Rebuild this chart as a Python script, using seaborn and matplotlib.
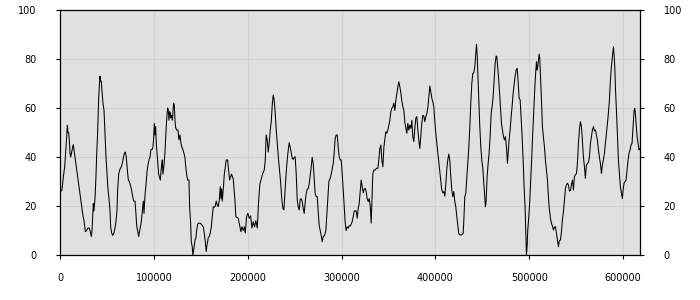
import numpy as np
import pandas as pd
import matplotlib
matplotlib.use("Agg")
import matplotlib.pyplot as plt
import seaborn as sns

# positions in thousands and values
pos_k = [
    0.7, 2.1, 3.6, 5.0, 6.0, 7.1, 7.8, 8.5, 9.2, 9.9, 10.7, 11.4, 12.4, 13.5, 14.2, 14.9,
    16.0, 17.0, 18.5, 19.9, 21.3, 22.7, 24.1, 25.6, 27.0, 28.4, 29.8, 31.2, 32.3, 33.4,
    34.1, 34.8, 35.5, 36.2, 37.3, 38.3, 39.1, 40.1, 41.2, 41.9, 42.6, 43.3, 44.0, 44.7,
    45.8, 46.9, 47.9, 49.0, 50.1, 51.1, 52.2, 53.3, 54.0, 55.0, 56.1, 57.5, 58.6, 59.6,
    60.7, 61.4, 62.5, 63.9, 65.3, 66.4, 67.5, 68.5, 69.6, 70.6, 71.7, 72.8, 73.8, 74.9,
    76.3, 77.4, 78.5, 79.9, 80.9, 81.7, 82.7, 83.8, 84.5, 85.6, 86.6, 87.7, 88.8, 89.5,
    90.5, 91.6, 92.7, 93.7, 94.8, 95.9, 96.9, 98.0, 99.0, 99.8, 100.5, 101.2, 101.9,
    102.6, 103.3, 104.0, 105.1, 105.8, 106.9, 107.6, 108.3, 109.0, 109.7, 110.8, 111.8,
    112.5, 113.2, 114.0, 114.7, 115.4, 116.1, 116.8, 117.5, 118.2, 118.9, 119.6, 120.3,
    121.1, 121.8, 122.5, 123.2, 124.3, 125.7, 126.7, 127.8, 128.9, 129.9, 131.0, 132.1,
    133.1, 133.8, 134.9, 136.0, 137.4, 138.1, 139.2, 139.9, 140.9, 141.6, 142.7, 143.8,
    144.8, 145.6, 146.6, 147.7, 149.1, 150.5, 151.6, 152.7, 153.7, 154.8, 155.8, 156.6,
    157.3, 158.0, 159.0, 160.1, 161.2, 162.2, 163.3, 164.4, 165.4, 166.5, 167.6, 168.6,
    169.7, 170.8, 171.5, 172.2, 172.9, 173.9, 175.0, 176.1, 177.1, 178.6, 179.6, 180.7,
    182.8, 184.6, 186.4, 187.4, 189.9, 191.7, 192.8, 193.8, 195.2, 196.3, 197.4, 198.8,
    200.2, 201.6, 203.1, 204.5, 205.9, 207.3, 208.7, 210.2, 211.6, 213.0, 214.4, 215.8,
    217.6, 218.7, 219.7, 220.8, 221.9, 222.9, 224.0, 225.1, 226.1, 227.2, 228.3, 229.3,
    230.4, 231.5, 232.9, 234.3, 235.4, 236.4, 237.5, 238.6, 239.6, 240.7, 241.8, 242.8,
    244.2, 245.3, 246.4, 247.4, 248.5, 249.6, 250.6, 251.7, 252.8, 253.8, 254.9, 256.0,
    257.0, 258.1, 259.1, 260.2, 261.3, 262.3, 263.4, 264.5, 265.5, 266.6, 267.7, 268.7,
    269.8, 270.9, 271.9, 273.0, 274.1, 275.1, 276.2, 277.3, 278.3, 279.4, 280.5, 281.9,
    283.3, 284.4, 285.4, 286.5, 287.9, 289.0, 290.0, 291.1, 292.2, 293.2, 294.3, 295.4,
    296.4, 297.5, 298.6, 299.6, 300.7, 301.8, 302.8, 303.9, 304.9, 306.0, 307.1, 308.1,
    309.2, 310.3, 311.3, 312.4, 313.5, 314.5, 315.6, 316.7, 317.7, 318.8, 319.9, 320.9,
    322.0, 323.1, 324.1, 325.2, 326.2, 327.3, 328.4, 329.4, 330.5, 331.6, 332.6, 333.3,
    334.4, 335.8, 337.3, 338.7, 339.7, 340.8, 341.9, 342.9, 344.0, 345.1, 346.1, 347.2,
    348.2, 349.3, 350.4, 351.4, 352.5, 353.6, 354.6, 355.7, 356.8, 357.8, 358.9, 360.0,
    361.0, 362.1, 363.2, 364.2, 365.3, 366.4, 367.4, 368.5, 369.6, 370.6, 371.7, 372.8,
    373.8, 374.9, 375.9, 377.0, 378.1, 379.1, 380.2, 381.3, 382.3, 383.4, 384.5, 385.5,
    386.6, 387.7, 388.7, 389.8, 390.9, 391.9, 393.0, 394.1, 395.1, 396.2, 397.2, 398.3,
    399.4, 400.4, 401.5, 402.6, 403.6, 404.7, 405.8, 406.8, 407.9, 409.0, 410.0, 411.1,
    412.2, 413.2, 414.3, 415.3, 416.4, 417.5, 418.5, 419.6, 420.7, 421.7, 422.8, 423.9,
    424.9, 426.0, 427.8, 429.6, 430.3, 431.3, 432.4, 433.5, 434.5, 435.6, 436.7, 437.7,
    438.8, 439.8, 440.9, 442.0, 443.0, 443.8, 444.5, 445.2, 446.2, 447.3, 448.4, 449.4,
    450.5, 451.6, 452.6, 453.3, 454.0, 455.1, 456.2, 457.2, 458.3, 459.4, 460.4, 461.5,
    462.6, 463.6, 464.7, 465.4, 466.1, 467.2, 468.2, 469.3, 470.4, 471.4, 472.5, 473.6,
    474.6, 475.7, 476.8, 477.5, 478.5, 479.6, 480.7, 481.7, 482.8, 483.9, 484.9, 486.0,
    487.1, 487.8, 488.5, 489.2, 490.3, 491.3, 492.4, 493.5, 494.5, 495.6, 496.3, 497.0,
    497.7, 498.4, 499.5, 500.6, 501.6, 502.7, 503.7, 504.8, 505.9, 506.9, 507.7, 508.4,
    509.1, 509.8, 510.5, 511.2, 511.9, 513.0, 514.0, 515.1, 516.2, 517.2, 518.3, 519.4,
    520.4, 521.5, 522.6, 523.6, 524.7, 525.8, 526.8, 527.9, 529.0, 530.0, 531.1, 532.1,
    533.2, 534.3, 535.3, 536.4, 537.5, 538.5, 539.6, 540.7, 541.7, 542.8, 543.9, 544.9,
    546.0, 547.1, 548.1, 549.2, 550.3, 551.3, 552.4, 553.4, 554.5, 555.6, 556.6, 557.7,
    558.8, 559.8, 560.9, 562.0, 563.0, 564.1, 565.2, 566.2, 567.3, 568.4, 569.4, 570.5,
    571.6, 572.6, 573.7, 574.7, 575.8, 576.9, 577.9, 579.0, 580.1, 581.1, 582.2, 583.3,
    584.3, 585.4, 586.5, 587.5, 588.6, 589.7, 590.4, 591.1, 591.8, 592.9, 593.9, 595.0,
    596.0, 597.1, 598.2, 599.2, 600.0, 601.0, 602.1, 603.1, 604.2, 605.3, 606.3, 607.4,
    608.5, 609.5, 610.2, 611.0, 611.7, 612.4, 613.1, 613.8, 614.9, 615.9, 617.0, 617.7,
]

values = [
    25.9, 26.5, 32, 36, 41.5, 48, 53, 50, 50, 47, 41.5, 40, 42, 44, 45, 43,
    40, 37, 33, 28.5, 25, 21, 17, 14, 9.5, 10, 11, 11, 9.5, 7.5,
    10, 16, 21, 18, 23, 32, 41, 50, 64, 69, 73, 71, 71, 67,
    62, 59, 50, 40, 33, 27, 23, 18, 11.5, 9, 8, 9, 11, 13.6,
    18, 26.5, 33, 35, 36, 37.4, 39.5, 41.5, 42, 40, 35, 30.6, 30, 28.6,
    26.5, 24, 22, 22, 17, 12, 10, 7.5, 9, 11.5, 13.6, 17.7, 22, 17,
    24, 28.6, 34, 36.7, 38.8, 40, 43, 43, 44, 48, 53.7, 49, 52.4,
    45.6, 42, 38.8, 33, 32, 30.6, 34, 36.7, 38.8, 33, 36.7, 41.5,
    47, 52.4, 57, 60, 59, 55, 58.5, 58, 56, 57, 55, 58,
    62, 61, 55, 52, 51, 51, 47, 49, 45.6, 44, 43, 41.5,
    40, 36.7, 33, 30.6, 30.6, 19.7, 13, 5.4, 3.4, 0, 2.7, 6,
    7, 10, 12.6, 13, 13, 12.6, 12, 11.5, 9, 5.4, 1.4, 4,
    5.4, 7.2, 7.5, 9, 11.5, 15.6, 19.7, 19.5, 20, 22, 20.4, 19.7,
    22.4, 27.9, 23, 27, 22, 26.5, 32.6, 36, 38.8, 38.8, 34.7, 30.6,
    33, 31, 22.4, 15.6, 15, 11.5, 9.5, 11.5, 10, 11.5, 9, 15.6,
    17, 15, 16, 11, 13.6, 11.5, 14, 11, 21.8, 29, 31, 33,
    34.7, 38.8, 49, 47, 42, 45.6, 51, 54.4, 61, 65.3, 63, 58,
    51, 45.6, 38.8, 33, 27.9, 22.4, 19, 18.4, 25, 32, 37.4, 41.5,
    45.8, 44, 41.5, 39.5, 39, 40, 40, 33, 22.4, 19.7, 18.4, 22.7,
    23, 21.8, 19, 17, 21.8, 25, 26.8, 27.2, 29, 32.6, 36, 39.9,
    37.4, 30.6, 25, 23.8, 23.8, 17.7, 12, 10, 8, 5.4, 7.5, 8,
    10, 17, 23.8, 30, 31.3, 33, 35, 37.4, 42, 47.6, 49, 49,
    44, 40, 38.8, 38.8, 33, 26.5, 19.7, 13, 10, 11.5, 11, 12,
    11.8, 12.6, 13.6, 15.6, 18, 18, 18, 15, 19, 21, 25.9, 30.6,
    27.9, 25.4, 26.8, 27.2, 25.9, 23, 21.8, 23, 20.4, 13, 25, 33,
    34.7, 34.7, 35.4, 35.4, 38.8, 43.5, 44.9, 38.8, 36, 44, 47, 50.3,
    49.7, 51, 53, 54.8, 58.5, 59.9, 60.5, 62, 59, 63, 66, 68.7,
    70.7, 68.7, 66, 63, 60.5, 59, 54.4, 51.7, 49.7, 53.7, 51, 53,
    51.7, 55, 48.3, 46.3, 51.7, 55.8, 56.5, 51, 47, 43.5, 49, 53.7,
    57, 56.7, 54.4, 56.5, 57.8, 60, 64.6, 69, 66.7, 64, 62.6, 60.5,
    54.4, 49.7, 45.6, 41.5, 37.4, 34, 30, 26.5, 25.4, 25.9, 24, 29,
    35.4, 38.8, 41.2, 38.8, 32, 26.5, 23.8, 25.9, 21.8, 19.7, 15.6, 12,
    8.8, 8.2, 8.2, 8.8, 14.3, 23.8, 25.2, 32, 37.4, 44, 52.4, 62,
    70, 74, 74.4, 76.9, 82.3, 86, 81.6, 74, 63, 52.4, 44, 38.8,
    35.4, 29, 23, 19.7, 21.8, 32, 37.4, 41.5, 48.3, 57.8, 60.5, 64.6,
    72, 78, 81.2, 81, 78, 72.8, 67.3, 60.5, 53.7, 51, 48.3, 47,
    48.3, 44, 37.4, 41.5, 47, 51, 56.5, 60.5, 66, 69.4, 72.8, 75.5,
    76.2, 72.8, 68.7, 64, 63.3, 56.5, 48.3, 38.8, 27.9, 19, 10.2, 0,
    3.4, 10.2, 15.6, 22.4, 30.6, 40, 49.7, 59, 68, 74.8, 78.9, 75.5,
    76.9, 79.6, 82, 80.3, 74, 63.3, 52.4, 48.3, 44, 38.8, 34.7, 30.6,
    23.8, 18.4, 15, 13, 11.8, 10.2, 11.3, 11.6, 8.8, 6.1, 3.4, 5.9,
    6.1, 9.5, 14.3, 17.7, 22.4, 27.2, 28.6, 29.3, 28.6, 26.1, 26.3, 28.6,
    30.6, 26.5, 32, 32.7, 33.3, 37.4, 45.6, 51, 54.4, 52.4, 47, 40,
    36, 31.3, 36.7, 37.4, 37.7, 40, 45.6, 48.3, 51, 52.4, 50.7, 51,
    49, 47, 42.9, 40, 37.4, 33.3, 36.7, 38.8, 41.5, 45.6, 49.7, 53.7,
    57.8, 63.3, 71.4, 76.9, 81, 85, 81.6, 76.9, 68.7, 59, 49.7, 38.8,
    33.3, 27.9, 25.2, 23, 26.5, 29.3, 29.9, 30.6, 34.7, 38.8, 41.5, 42.9,
    44.9, 45.6, 49.7, 53.7, 59, 59.9, 57.8, 53.7, 48.3, 45.6, 42.9, 43.5,
]

x_ticks = [0, 100000, 200000, 300000, 400000, 500000, 600000]
y_ticks = [0, 20, 40, 60, 80, 100]

df = pd.DataFrame({"position": np.array(pos_k) * 1000, "value": values})

sns.set_style("white")
plt.rcParams["font.family"] = ["DejaVu Sans"]

fig = plt.figure(figsize=(7, 3), dpi=100)
ax = fig.add_axes([60 / 700, 45 / 300, 580 / 700, 245 / 300])
ax.set_facecolor("#e0e0e0")

sns.lineplot(data=df, x="position", y="value", ax=ax, color="black",
             linewidth=0.75, sort=False)

ax.set_xlim(0, 618000)
ax.set_ylim(0, 100)
ax.set_xticks(x_ticks)
ax.set_xticklabels([str(t) for t in x_ticks])
ax.set_yticks(y_ticks)
ax.set_yticklabels([str(t) for t in y_ticks])
ax.grid(True, color="#d2d2d2", linewidth=0.8)
ax.set_axisbelow(True)
ax.set_xlabel("")
ax.set_ylabel("")

for s in ax.spines.values():
    s.set_color("black")
    s.set_linewidth(0.9)
    s.set_visible(True)

ax.tick_params(axis="y", which="both", left=True, right=True,
               labelleft=True, labelright=True, direction="out",
               length=3, width=0.8, pad=14, labelsize=7, colors="black")
ax.tick_params(axis="x", which="both", bottom=True, direction="out",
               length=3, width=0.8, pad=10, labelsize=7, colors="black")

fig.savefig("out.png", dpi=100, facecolor="white")
